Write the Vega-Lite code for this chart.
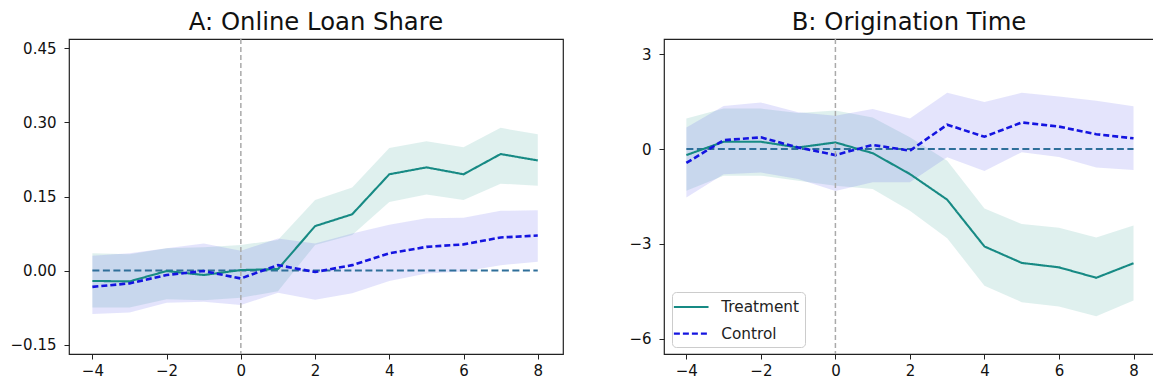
{
  "$schema": "https://vega.github.io/schema/vega-lite/v6.json",
  "padding": {"left": 9, "top": 10, "right": 0, "bottom": 0},
  "background": "white",
  "spacing": 64,
  "datasets": {
    "A": [
      {"x": -4, "group": "Treatment", "y": -0.021, "lo": -0.075, "hi": 0.035},
      {"x": -3, "group": "Treatment", "y": -0.022, "lo": -0.075, "hi": 0.033},
      {"x": -2, "group": "Treatment", "y": -0.001, "lo": -0.058, "hi": 0.045},
      {"x": -1, "group": "Treatment", "y": -0.009, "lo": -0.060, "hi": 0.047},
      {"x": 0, "group": "Treatment", "y": 0.001, "lo": -0.055, "hi": 0.052},
      {"x": 1, "group": "Treatment", "y": 0.003, "lo": -0.042, "hi": 0.062},
      {"x": 2, "group": "Treatment", "y": 0.090, "lo": 0.052, "hi": 0.143},
      {"x": 3, "group": "Treatment", "y": 0.114, "lo": 0.072, "hi": 0.168},
      {"x": 4, "group": "Treatment", "y": 0.195, "lo": 0.139, "hi": 0.248},
      {"x": 5, "group": "Treatment", "y": 0.209, "lo": 0.154, "hi": 0.262},
      {"x": 6, "group": "Treatment", "y": 0.195, "lo": 0.143, "hi": 0.250},
      {"x": 7, "group": "Treatment", "y": 0.236, "lo": 0.176, "hi": 0.289},
      {"x": 8, "group": "Treatment", "y": 0.223, "lo": 0.172, "hi": 0.276},
      {"x": -4, "group": "Control", "y": -0.033, "lo": -0.088, "hi": 0.030},
      {"x": -3, "group": "Control", "y": -0.026, "lo": -0.085, "hi": 0.035},
      {"x": -2, "group": "Control", "y": -0.009, "lo": -0.065, "hi": 0.045},
      {"x": -1, "group": "Control", "y": -0.001, "lo": -0.063, "hi": 0.055},
      {"x": 0, "group": "Control", "y": -0.016, "lo": -0.070, "hi": 0.040},
      {"x": 1, "group": "Control", "y": 0.011, "lo": -0.045, "hi": 0.065},
      {"x": 2, "group": "Control", "y": -0.003, "lo": -0.059, "hi": 0.055},
      {"x": 3, "group": "Control", "y": 0.011, "lo": -0.046, "hi": 0.075},
      {"x": 4, "group": "Control", "y": 0.035, "lo": -0.021, "hi": 0.093},
      {"x": 5, "group": "Control", "y": 0.048, "lo": -0.006, "hi": 0.106},
      {"x": 6, "group": "Control", "y": 0.053, "lo": -0.002, "hi": 0.107},
      {"x": 7, "group": "Control", "y": 0.067, "lo": 0.011, "hi": 0.121},
      {"x": 8, "group": "Control", "y": 0.071, "lo": 0.018, "hi": 0.122}
    ],
    "B": [
      {"x": -4, "group": "Treatment", "y": -0.19, "lo": -1.32, "hi": 0.97},
      {"x": -3, "group": "Treatment", "y": 0.23, "lo": -0.84, "hi": 1.28},
      {"x": -2, "group": "Treatment", "y": 0.23, "lo": -0.84, "hi": 1.28},
      {"x": -1, "group": "Treatment", "y": 0.05, "lo": -1.00, "hi": 1.14},
      {"x": 0, "group": "Treatment", "y": 0.21, "lo": -1.16, "hi": 1.22},
      {"x": 1, "group": "Treatment", "y": -0.13, "lo": -1.26, "hi": 1.00},
      {"x": 2, "group": "Treatment", "y": -0.79, "lo": -1.95, "hi": 0.37},
      {"x": 3, "group": "Treatment", "y": -1.60, "lo": -2.82, "hi": -0.37},
      {"x": 4, "group": "Treatment", "y": -3.08, "lo": -4.32, "hi": -1.88},
      {"x": 5, "group": "Treatment", "y": -3.60, "lo": -4.84, "hi": -2.37},
      {"x": 6, "group": "Treatment", "y": -3.74, "lo": -4.98, "hi": -2.49},
      {"x": 7, "group": "Treatment", "y": -4.07, "lo": -5.29, "hi": -2.80},
      {"x": 8, "group": "Treatment", "y": -3.61, "lo": -4.79, "hi": -2.42},
      {"x": -4, "group": "Control", "y": -0.44, "lo": -1.53, "hi": 0.68},
      {"x": -3, "group": "Control", "y": 0.28, "lo": -0.80, "hi": 1.36},
      {"x": -2, "group": "Control", "y": 0.37, "lo": -0.74, "hi": 1.47},
      {"x": -1, "group": "Control", "y": 0.05, "lo": -0.95, "hi": 1.16},
      {"x": 0, "group": "Control", "y": -0.19, "lo": -1.33, "hi": 1.05},
      {"x": 1, "group": "Control", "y": 0.13, "lo": -1.05, "hi": 1.27},
      {"x": 2, "group": "Control", "y": -0.05, "lo": -1.05, "hi": 0.97},
      {"x": 3, "group": "Control", "y": 0.77, "lo": -0.26, "hi": 1.78},
      {"x": 4, "group": "Control", "y": 0.39, "lo": -0.69, "hi": 1.49},
      {"x": 5, "group": "Control", "y": 0.84, "lo": -0.10, "hi": 1.78},
      {"x": 6, "group": "Control", "y": 0.71, "lo": -0.25, "hi": 1.66},
      {"x": 7, "group": "Control", "y": 0.47, "lo": -0.58, "hi": 1.53},
      {"x": 8, "group": "Control", "y": 0.34, "lo": -0.66, "hi": 1.35}
    ],
    "one": [{}]
  },
  "resolve": {
    "scale": {"color": "independent", "strokeDash": "independent", "fill": "independent"},
    "legend": {"color": "independent", "strokeDash": "independent"}
  },
  "hconcat": [
    {
      "width": 494,
      "height": 315,
      "title": "A: Online Loan Share",
      "layer": [
        {
          "data": {"name": "A"},
          "mark": {"type": "area", "opacity": 0.15},
          "encoding": {
            "x": {"field": "x", "type": "quantitative", "title": null, "scale": {"domain": [-4.63, 8.68], "nice": false, "zero": false}, "axis": {"values": [-4, -2, 0, 2, 4, 6, 8], "format": "d"}},
            "y": {"field": "lo", "type": "quantitative", "title": null, "scale": {"domain": [-0.169, 0.469], "nice": false, "zero": false}, "axis": {"values": [-0.15, 0, 0.15, 0.3, 0.45], "format": ".2f"}},
            "y2": {"field": "hi"},
            "fill": {"field": "group", "type": "nominal", "scale": {"domain": ["Control", "Treatment"], "range": ["#4b4beb", "#2a9b8e"]}, "legend": null}
          }
        },
        {
          "data": {"name": "one"},
          "mark": {"type": "rule", "strokeDash": [7, 3.5], "color": "#2f6f9a", "strokeWidth": 1.9},
          "encoding": {
            "x": {"datum": -4, "type": "quantitative", "title": null, "scale": {"domain": [-4.63, 8.68], "nice": false, "zero": false}},
            "x2": {"datum": 8},
            "y": {"datum": 0, "type": "quantitative", "title": null, "scale": {"domain": [-0.169, 0.469], "nice": false, "zero": false}}
          }
        },
        {
          "data": {"name": "A"},
          "transform": [{"filter": "datum.group === 'Treatment'"}],
          "mark": {"type": "line", "strokeWidth": 2.1},
          "encoding": {
            "x": {"field": "x", "type": "quantitative", "title": null, "scale": {"domain": [-4.63, 8.68], "nice": false, "zero": false}},
            "y": {"field": "y", "type": "quantitative", "title": null, "scale": {"domain": [-0.169, 0.469], "nice": false, "zero": false}},
            "color": {"field": "group", "type": "nominal", "scale": {"domain": ["Treatment", "Control"], "range": ["#178a84", "#1414e0"]}, "legend": null},
            "strokeDash": {"field": "group", "type": "nominal", "scale": {"domain": ["Treatment", "Control"], "range": [[1, 0], [6, 3]]}, "legend": null}
          }
        },
        {
          "data": {"name": "A"},
          "transform": [{"filter": "datum.group === 'Control'"}],
          "mark": {"type": "line", "strokeWidth": 2.6},
          "encoding": {
            "x": {"field": "x", "type": "quantitative", "title": null, "scale": {"domain": [-4.63, 8.68], "nice": false, "zero": false}},
            "y": {"field": "y", "type": "quantitative", "title": null, "scale": {"domain": [-0.169, 0.469], "nice": false, "zero": false}},
            "color": {"field": "group", "type": "nominal", "scale": {"domain": ["Treatment", "Control"], "range": ["#178a84", "#1414e0"]}, "legend": null},
            "strokeDash": {"field": "group", "type": "nominal", "scale": {"domain": ["Treatment", "Control"], "range": [[1, 0], [6, 3]]}, "legend": null}
          }
        },
        {
          "data": {"name": "one"},
          "mark": {"type": "rule", "strokeDash": [5, 3], "color": "#aaaaaa", "strokeWidth": 1.5},
          "encoding": {
            "x": {"datum": 0, "type": "quantitative", "title": null, "scale": {"domain": [-4.63, 8.68], "nice": false, "zero": false}}
          }
        }
      ]
    },
    {
      "width": 490,
      "height": 315,
      "title": "B: Origination Time",
      "layer": [
        {
          "data": {"name": "B"},
          "mark": {"type": "area", "opacity": 0.15},
          "encoding": {
            "x": {"field": "x", "type": "quantitative", "title": null, "scale": {"domain": [-4.6, 8.55], "nice": false, "zero": false}, "axis": {"values": [-4, -2, 0, 2, 4, 6, 8], "format": "d"}},
            "y": {"field": "lo", "type": "quantitative", "title": null, "scale": {"domain": [-6.48, 3.48], "nice": false, "zero": false}, "axis": {"values": [-6, -3, 0, 3], "format": "d"}},
            "y2": {"field": "hi"},
            "fill": {"field": "group", "type": "nominal", "scale": {"domain": ["Control", "Treatment"], "range": ["#4b4beb", "#2a9b8e"]}, "legend": null}
          }
        },
        {
          "data": {"name": "one"},
          "mark": {"type": "rule", "strokeDash": [7, 3.5], "color": "#2f6f9a", "strokeWidth": 1.9},
          "encoding": {
            "x": {"datum": -4, "type": "quantitative", "title": null, "scale": {"domain": [-4.6, 8.55], "nice": false, "zero": false}},
            "x2": {"datum": 8},
            "y": {"datum": 0, "type": "quantitative", "title": null, "scale": {"domain": [-6.48, 3.48], "nice": false, "zero": false}}
          }
        },
        {
          "data": {"name": "B"},
          "transform": [{"filter": "datum.group === 'Treatment'"}],
          "mark": {"type": "line", "strokeWidth": 2.1},
          "encoding": {
            "x": {"field": "x", "type": "quantitative", "title": null, "scale": {"domain": [-4.6, 8.55], "nice": false, "zero": false}},
            "y": {"field": "y", "type": "quantitative", "title": null, "scale": {"domain": [-6.48, 3.48], "nice": false, "zero": false}},
            "color": {"field": "group", "type": "nominal", "title": null, "scale": {"domain": ["Treatment", "Control"], "range": ["#178a84", "#1414e0"]},
              "legend": {"orient": "none", "legendX": 8, "legendY": 253}},
            "strokeDash": {"field": "group", "type": "nominal", "title": null, "scale": {"domain": ["Treatment", "Control"], "range": [[1, 0], [6, 3]]},
              "legend": {"orient": "none", "legendX": 8, "legendY": 253}}
          }
        },
        {
          "data": {"name": "B"},
          "transform": [{"filter": "datum.group === 'Control'"}],
          "mark": {"type": "line", "strokeWidth": 2.6},
          "encoding": {
            "x": {"field": "x", "type": "quantitative", "title": null, "scale": {"domain": [-4.6, 8.55], "nice": false, "zero": false}},
            "y": {"field": "y", "type": "quantitative", "title": null, "scale": {"domain": [-6.48, 3.48], "nice": false, "zero": false}},
            "color": {"field": "group", "type": "nominal", "title": null, "scale": {"domain": ["Treatment", "Control"], "range": ["#178a84", "#1414e0"]},
              "legend": {"orient": "none", "legendX": 8, "legendY": 253}},
            "strokeDash": {"field": "group", "type": "nominal", "title": null, "scale": {"domain": ["Treatment", "Control"], "range": [[1, 0], [6, 3]]},
              "legend": {"orient": "none", "legendX": 8, "legendY": 253}}
          }
        },
        {
          "data": {"name": "one"},
          "mark": {"type": "rule", "strokeDash": [5, 3], "color": "#aaaaaa", "strokeWidth": 1.5},
          "encoding": {
            "x": {"datum": 0, "type": "quantitative", "title": null, "scale": {"domain": [-4.6, 8.55], "nice": false, "zero": false}}
          }
        }
      ]
    }
  ],
  "config": {
    "font": "DejaVu Sans",
    "view": {"stroke": "#222", "strokeWidth": 1.2},
    "title": {"font": "DejaVu Sans", "fontSize": 24.3, "fontWeight": "normal", "color": "#111", "baseline": "alphabetic", "offset": 3, "anchor": "middle"},
    "axis": {"domain": false, "grid": false, "tickSize": 5, "tickColor": "#222", "tickWidth": 1, "labelFont": "DejaVu Sans", "labelFontSize": 15, "labelColor": "#111"},
    "axisY": {"labelPadding": 8},
    "axisX": {"labelPadding": 4},
    "legend": {"padding": 5, "fillColor": "white", "strokeColor": "#cccccc", "cornerRadius": 4, "symbolType": "M-2,0L2,0", "symbolSize": 300, "symbolOffset": 4.2, "symbolStrokeWidth": 2.2, "labelOffset": 20, "labelFontSize": 15.3, "labelExpr": "datum.label + '  '", "labelFont": "DejaVu Sans", "labelColor": "#222", "rowPadding": 7.7}
  }
}
